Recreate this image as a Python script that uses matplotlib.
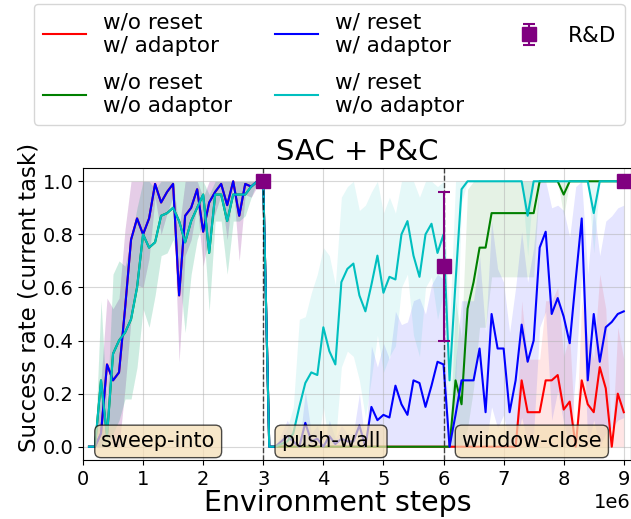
import matplotlib.pyplot as plt
import numpy as np

# evaluation every 1e5 env steps, 30 evaluations per task
steps = np.arange(1, 91) * 1e5
task_names = ['sweep-into', 'push-wall', 'window-close']
task_starts = [0, 3e6, 6e6]

# --- task 1: sweep-into (reset makes no difference before the first switch)
sweep_adaptor = [0.0, 0.0, 0.05, 0.31, 0.25, 0.28, 0.52, 0.78, 0.86, 0.80,
                 0.86, 0.99, 0.92, 0.96, 0.99, 0.57, 0.87, 0.90, 0.97, 0.81,
                 0.92, 0.96, 0.99, 0.91, 1.0, 0.87, 0.99, 0.98, 1.0, 1.0]
sweep_adaptor_std = [0.0, 0.0, 0.2, 0.25, 0.27, 0.28, 0.3, 0.3, 0.25, 0.2,
                     0.15, 0.05, 0.12, 0.08, 0.05, 0.25, 0.15, 0.12, 0.06, 0.13,
                     0.12, 0.08, 0.04, 0.13, 0.02, 0.17, 0.04, 0.04, 0.02, 0.0]
sweep_no_adaptor = [0.0, 0.0, 0.25, 0.04, 0.35, 0.40, 0.43, 0.48, 0.60, 0.80,
                    0.75, 0.77, 0.87, 0.88, 0.90, 0.85, 0.77, 0.85, 0.90, 0.95,
                    0.73, 0.95, 0.95, 0.85, 0.95, 0.95, 0.95, 0.98, 1.0, 1.0]
sweep_no_adaptor_std = [0.0, 0.0, 0.3, 0.1, 0.3, 0.3, 0.25, 0.3, 0.3, 0.28,
                        0.3, 0.2, 0.15, 0.15, 0.12, 0.18, 0.34, 0.2, 0.12, 0.1,
                        0.22, 0.1, 0.1, 0.2, 0.1, 0.1, 0.08, 0.04, 0.0, 0.0]

# --- task 2: push-wall
push_no_reset = [0.0] * 30
push_reset_adaptor = [0.0, 0.0, 0.02, 0.04, 0.02, 0.0, 0.09, 0.02, 0.03, 0.0,
                      0.04, 0.01, 0.03, 0.02, 0.02, 0.08, 0.0, 0.15, 0.10, 0.12,
                      0.11, 0.23, 0.16, 0.12, 0.25, 0.24, 0.15, 0.23, 0.32, 0.31]
push_reset_adaptor_std = [0.0, 0.0, 0.03, 0.06, 0.03, 0.0, 0.12, 0.03, 0.05, 0.0,
                          0.06, 0.02, 0.05, 0.03, 0.03, 0.12, 0.0, 0.23, 0.2, 0.27,
                          0.22, 0.28, 0.3, 0.35, 0.3, 0.32, 0.35, 0.38, 0.33, 0.32]
push_reset_no_adaptor = [0.0, 0.0, 0.01, 0.02, 0.05, 0.15, 0.24, 0.28, 0.27, 0.45,
                         0.36, 0.31, 0.62, 0.67, 0.69, 0.57, 0.51, 0.61, 0.72, 0.58,
                         0.64, 0.63, 0.80, 0.85, 0.72, 0.64, 0.80, 0.84, 0.73, 0.80]
push_reset_no_adaptor_std = [0.0, 0.0, 0.02, 0.05, 0.1, 0.33, 0.25, 0.3, 0.38, 0.3,
                             0.36, 0.3, 0.32, 0.31, 0.35, 0.32, 0.4, 0.35, 0.3, 0.3,
                             0.3, 0.25, 0.2, 0.2, 0.3, 0.3, 0.2, 0.2, 0.25, 0.22]

# --- task 3: window-close
window_no_reset_adaptor = [0.0, 0.0, 0.0, 0.0, 0.0, 0.0, 0.0, 0.0, 0.0, 0.0,
                           0.0, 0.0, 0.25, 0.13, 0.13, 0.13, 0.25, 0.25, 0.27, 0.14,
                           0.17, 0.0, 0.25, 0.16, 0.13, 0.30, 0.22, 0.0, 0.20, 0.13]
window_no_reset_adaptor_std = [0.0, 0.0, 0.0, 0.0, 0.0, 0.0, 0.0, 0.0, 0.0, 0.0,
                               0.0, 0.0, 0.3, 0.2, 0.2, 0.2, 0.3, 0.3, 0.33, 0.2,
                               0.25, 0.0, 0.3, 0.25, 0.2, 0.35, 0.3, 0.0, 0.25, 0.2]
window_no_reset_no_adaptor = [0.0, 0.25, 0.16, 0.52, 0.62, 0.75, 0.75, 0.88, 0.88, 0.88,
                              0.88, 0.88, 0.88, 0.88, 0.88, 1.0, 1.0, 1.0, 1.0, 0.95,
                              1.0, 1.0, 1.0, 1.0, 1.0, 1.0, 1.0, 1.0, 1.0, 1.0]
window_no_reset_no_adaptor_std = [0.0, 0.3, 0.25, 0.45, 0.4, 0.3, 0.3, 0.24, 0.24, 0.24,
                                  0.24, 0.24, 0.24, 0.24, 0.24, 0.0, 0.0, 0.0, 0.0, 0.08,
                                  0.0, 0.0, 0.0, 0.0, 0.0, 0.0, 0.0, 0.0, 0.0, 0.0]
window_reset_adaptor = [0.0, 0.12, 0.25, 0.25, 0.25, 0.37, 0.13, 0.50, 0.37, 0.37,
                        0.13, 0.25, 0.46, 0.32, 0.40, 0.75, 0.81, 0.50, 0.56, 0.49,
                        0.39, 0.63, 0.86, 0.25, 0.50, 0.32, 0.45, 0.47, 0.50, 0.51]
window_reset_adaptor_std = [0.0, 0.2, 0.3, 0.3, 0.3, 0.35, 0.3, 0.35, 0.3, 0.25,
                            0.3, 0.35, 0.35, 0.3, 0.35, 0.3, 0.3, 0.4, 0.35, 0.4,
                            0.4, 0.35, 0.2, 0.4, 0.4, 0.4, 0.4, 0.4, 0.4, 0.4]
window_reset_no_adaptor = [0.25, 0.62, 0.97, 1.0, 1.0, 1.0, 1.0, 1.0, 1.0, 1.0,
                           1.0, 1.0, 1.0, 0.87, 1.0, 1.0, 1.0, 1.0, 1.0, 1.0,
                           1.0, 1.0, 1.0, 1.0, 0.88, 1.0, 1.0, 1.0, 1.0, 1.0]
window_reset_no_adaptor_std = [0.2, 0.4, 0.05, 0.0, 0.0, 0.0, 0.0, 0.0, 0.0, 0.0,
                               0.0, 0.0, 0.0, 0.15, 0.0, 0.0, 0.0, 0.0, 0.0, 0.0,
                               0.0, 0.0, 0.0, 0.0, 0.15, 0.0, 0.0, 0.0, 0.0, 0.0]

# R&D reference points at the end of each task
rd_steps = [3e6, 6e6, 9e6]
rd_mean = [1.0, 0.68, 1.0]
rd_err = [0.0, 0.28, 0.0]

runs = [
    ('w/o reset\nw/ adaptor', 'r',
     sweep_adaptor + push_no_reset + window_no_reset_adaptor,
     sweep_adaptor_std + push_no_reset + window_no_reset_adaptor_std),
    ('w/o reset\nw/o adaptor', 'g',
     sweep_no_adaptor + push_no_reset + window_no_reset_no_adaptor,
     sweep_no_adaptor_std + push_no_reset + window_no_reset_no_adaptor_std),
    ('w/ reset\nw/ adaptor', 'b',
     sweep_adaptor + push_reset_adaptor + window_reset_adaptor,
     sweep_adaptor_std + push_reset_adaptor_std + window_reset_adaptor_std),
    ('w/ reset\nw/o adaptor', 'c',
     sweep_no_adaptor + push_reset_no_adaptor + window_reset_no_adaptor,
     sweep_no_adaptor_std + push_reset_no_adaptor_std + window_reset_no_adaptor_std),
]

fig = plt.figure(figsize=(6.31, 5.19), dpi=100)
ax = fig.add_axes([0.1315, 0.1137, 0.8685, 0.5626])

for label, color, mean, std in runs:
    mean = np.array(mean)
    std = np.array(std)
    ax.plot(steps, mean, color=color, lw=1.5, label=label)
    ax.fill_between(steps, np.clip(mean - std, 0, 1), np.clip(mean + std, 0, 1),
                    color=color, alpha=0.1, lw=0)

ax.errorbar(rd_steps, rd_mean, yerr=rd_err, fmt='s', color='purple',
            markersize=10, capsize=4, elinewidth=1.5, capthick=1.5,
            label='R&D', zorder=5)

# task switches
for t in task_starts[1:]:
    ax.axvline(t, color='k', ls='--', lw=1, alpha=0.7)

for name, t in zip(task_names, task_starts):
    ax.text(t + 0.3e6, 0.02, name, fontsize=15, ha='left', va='center',
            bbox=dict(boxstyle='round', facecolor='wheat', alpha=0.7))

ax.set_xlim(0, 9.12e6)
ax.set_ylim(-0.05, 1.05)
ax.set_xticks(np.arange(0, 10) * 1e6)
ax.set_yticks([0.0, 0.2, 0.4, 0.6, 0.8, 1.0])
ax.tick_params(labelsize=14)
ax.xaxis.get_offset_text().set_fontsize(14)
ax.grid(alpha=0.5)
ax.set_xlabel('Environment steps', fontsize=20.5)
ax.set_ylabel('Success rate (current task)', fontsize=16.5)
ax.xaxis.set_label_coords(0.465, -0.1)
ax.yaxis.set_label_coords(-0.077, 0.555)
ax.set_title('SAC + P&C', fontsize=21)

fig.legend(loc='upper center', bbox_to_anchor=(0.522, 0.997), ncol=3, fontsize=15.5,
           borderaxespad=0.1, labelspacing=0.8)

plt.savefig('out.png', dpi=100)
